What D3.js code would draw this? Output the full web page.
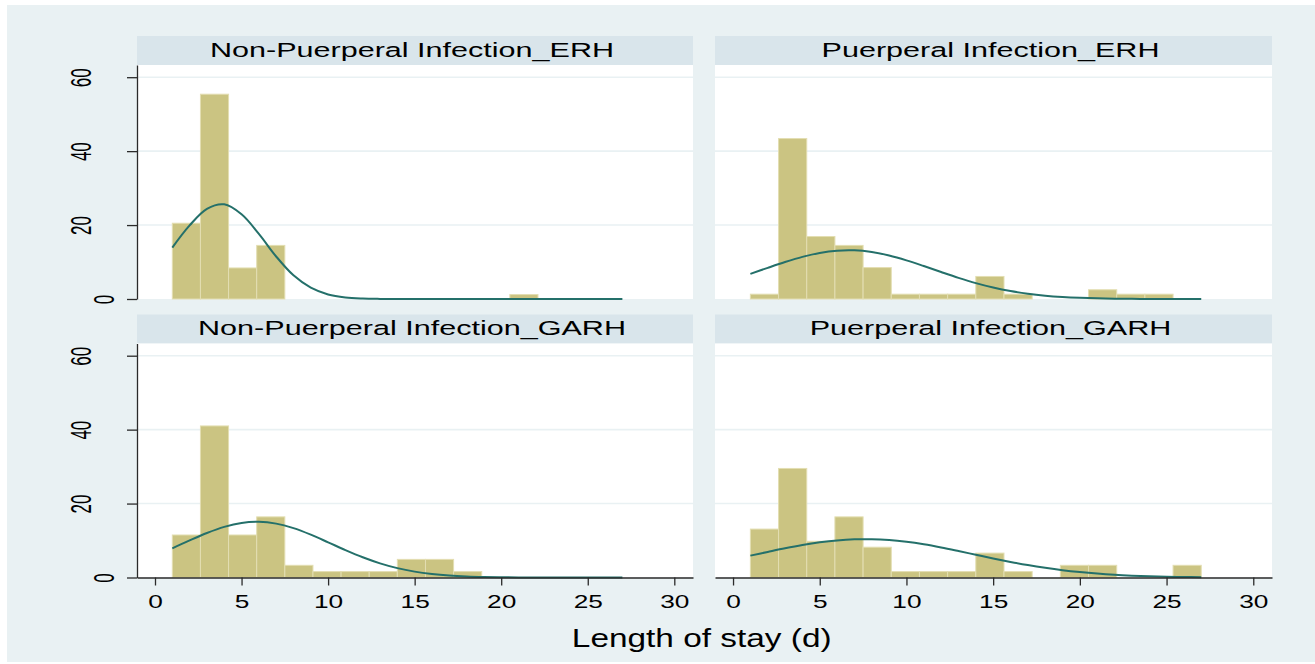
<!DOCTYPE html>
<html>
<head>
<meta charset="utf-8">
<script src="https://cdn.jsdelivr.net/npm/d3@7"></script>
<style>
  body { margin: 0; background: #ffffff; }
  svg { display: block; font-family: "Liberation Sans", Arial, sans-serif; }
</style>
</head>
<body>
<script>
// histogram bins (lower edges, days) shared by all panels
var binLo = [1, 2.625, 4.25, 5.875, 7.5, 9.125, 10.75, 12.375, 14, 15.625, 17.25, 18.875, 20.5, 22.125, 23.75, 25.375];
var binWidth = 1.625;

// bar heights, percent
var pctNonPuerERH  = [20.5, 55.4, 8.4, 14.5, 0, 0, 0, 0, 0, 0, 0, 0, 1.2, 0, 0, 0];
var pctPuerERH     = [1.3, 43.4, 16.9, 14.5, 8.5, 1.3, 1.3, 1.3, 6.1, 1.3, 0, 0, 2.5, 1.3, 1.3, 0];
var pctNonPuerGARH = [11.5, 41.0, 11.5, 16.4, 3.3, 1.6, 1.6, 1.6, 4.9, 4.9, 1.6, 0, 0, 0, 0, 0];
var pctPuerGARH    = [13.1, 29.5, 9.8, 16.4, 8.2, 1.6, 1.6, 1.6, 6.6, 1.6, 0, 3.3, 3.3, 0, 0, 3.3];

// normal density overlay, read at whole days 1..27
var curveX = [1, 2, 3, 4, 5, 6, 7, 8, 9, 10, 11, 12, 13, 14, 15, 16, 17, 18, 19, 20, 21, 22, 23, 24, 25, 26, 27];
var curveNonPuerERH  = [13.9, 19.9, 24.4, 25.6, 22.9, 17.6, 11.5, 6.4, 3.06, 1.24, 0.43, 0.13, 0.03, 0, 0, 0, 0, 0, 0, 0, 0, 0, 0, 0, 0, 0, 0];
var curvePuerERH     = [6.8, 8.43, 10.0, 11.4, 12.47, 13.08, 13.17, 12.71, 11.77, 10.46, 8.91, 7.29, 5.72, 4.30, 3.11, 2.15, 1.43, 0.91, 0.56, 0.33, 0.18, 0.10, 0.05, 0.02, 0.01, 0, 0];
var curveNonPuerGARH = [7.9, 10.03, 12.04, 13.70, 14.76, 15.06, 14.57, 13.35, 11.58, 9.52, 7.41, 5.47, 3.83, 2.53, 1.59, 0.95, 0.53, 0.28, 0.14, 0.07, 0.03, 0.01, 0, 0, 0, 0, 0];
var curvePuerGARH    = [5.92, 6.92, 7.90, 8.78, 9.51, 10.04, 10.33, 10.36, 10.13, 9.65, 8.97, 8.12, 7.16, 6.16, 5.16, 4.22, 3.36, 2.61, 1.97, 1.46, 1.05, 0.73, 0.50, 0.33, 0.22, 0.14, 0.08];

var panelTitles = ["Non-Puerperal Infection_ERH", "Puerperal Infection_ERH", "Non-Puerperal Infection_GARH", "Puerperal Infection_GARH"];
var yTicks = [0, 20, 40, 60];
var xTicks = [0, 5, 10, 15, 20, 25, 30];
var xTitle = "Length of stay (d)";

var width = 1315, height = 664;
var bgColor = "#e9f1f3", stripColor = "#d9e5eb", barColor = "#cbc482", barEdge = "#e3deb2", lineColor = "#24706a", axisColor = "#2a2a2a";

var cols = [[137, 693], [715, 1272]];
var rowTops = [36, 314.5];
var stripH = 29, plotH = 234;

var svg = d3.select("body").append("svg").attr("width", width).attr("height", height);

svg.append("rect").attr("x", 7).attr("y", 5).attr("width", width - 7).attr("height", 657).attr("fill", bgColor);

var panels = [
  {title: panelTitles[0], pct: pctNonPuerERH,  curve: curveNonPuerERH,  col: 0, row: 0},
  {title: panelTitles[1], pct: pctPuerERH,     curve: curvePuerERH,     col: 1, row: 0},
  {title: panelTitles[2], pct: pctNonPuerGARH, curve: curveNonPuerGARH, col: 0, row: 1},
  {title: panelTitles[3], pct: pctPuerGARH,    curve: curvePuerGARH,    col: 1, row: 1}
];

panels.forEach(function(p) {
  var x0 = cols[p.col][0], x1 = cols[p.col][1];
  var top = rowTops[p.row];
  var plotTop = top + stripH, plotBot = plotTop + plotH;

  var x = d3.scaleLinear().domain([-1.04, 31.08]).range([x0, x1]);
  var y = d3.scaleLinear().domain([0, 63.3]).range([plotBot, plotTop]);

  var g = svg.append("g");

  // strip header
  g.append("rect").attr("x", x0).attr("y", top).attr("width", x1 - x0).attr("height", stripH).attr("fill", stripColor);
  g.append("text")
    .attr("transform", "translate(" + ((x0 + x1) / 2 - 3) + "," + (top + 20.7) + ") scale(1.567,1)")
    .attr("text-anchor", "middle")
    .style("font-size", "19.5px")
    .attr("fill", "#000")
    .text(p.title);

  // plot region
  g.append("rect").attr("x", x0).attr("y", plotTop).attr("width", x1 - x0).attr("height", plotH).attr("fill", "#ffffff");

  g.selectAll("line.grid")
    .data(yTicks.filter(function(t){ return t > 0; }))
    .enter().append("line")
    .attr("class", "grid")
    .attr("x1", x0).attr("x2", x1)
    .attr("y1", function(d){ return y(d); })
    .attr("y2", function(d){ return y(d); })
    .attr("stroke", bgColor)
    .attr("stroke-width", 1.6);

  // bars
  var bars = binLo.map(function(lo, i){ return {lo: lo, v: p.pct[i]}; }).filter(function(d){ return d.v > 0; });
  g.selectAll("rect.bar")
    .data(bars)
    .enter().append("rect")
    .attr("class", "bar")
    .attr("x", function(d){ return x(d.lo); })
    .attr("width", function(d){ return x(d.lo + binWidth) - x(d.lo); })
    .attr("y", function(d){ return y(d.v); })
    .attr("height", function(d){ return y(0) - y(d.v); })
    .attr("fill", barColor)
    .attr("stroke", barEdge)
    .attr("stroke-width", 1);

  // normal curve
  var line = d3.line()
    .x(function(d){ return x(d[0]); })
    .y(function(d){ return y(d[1]); })
    .curve(d3.curveCatmullRom.alpha(0.5));
  g.append("path")
    .attr("d", line(curveX.map(function(cx, i){ return [cx, p.curve[i]]; })))
    .attr("fill", "none")
    .attr("stroke", lineColor)
    .attr("stroke-width", 2);

  // y axis on left column only
  if (p.col === 0) {
    var yAxis = d3.axisLeft(y).tickValues(yTicks).tickSize(10).tickSizeOuter(0);
    var ya = g.append("g").attr("transform", "translate(" + x0 + ",0)").call(yAxis);
    ya.select(".domain").attr("stroke", axisColor).attr("stroke-width", 1.3);
    ya.selectAll(".tick line").attr("stroke", axisColor).attr("stroke-width", 1.3);
    ya.selectAll(".tick text")
      .attr("x", null).attr("dy", null)
      .attr("text-anchor", "middle")
      .attr("fill", "#000")
      .style("font-size", "17px")
      .attr("transform", function(d){ return "translate(" + (-23.5 * String(d).length + 0.5) + ",0) rotate(-90) scale(1,1.7)"; });
  }

  // x axis on bottom row only
  if (p.row === 1) {
    var xAxis = d3.axisBottom(x).tickValues(xTicks).tickSize(8).tickSizeOuter(0);
    var xa = g.append("g").attr("transform", "translate(0," + plotBot + ")").call(xAxis);
    xa.select(".domain").attr("stroke", axisColor).attr("stroke-width", 1.3);
    xa.selectAll(".tick line").attr("stroke", axisColor).attr("stroke-width", 1.3);
    xa.selectAll(".tick text")
      .attr("y", 30.8).attr("dy", null)
      .attr("fill", "#000")
      .style("font-size", "18.5px")
      .attr("transform", "scale(1.42,1)");
  }
});

svg.append("text")
  .attr("transform", "translate(701.7,646.7) scale(1.26,1)")
  .attr("text-anchor", "middle")
  .style("font-size", "26.5px")
  .attr("fill", "#000")
  .text(xTitle);
</script>
</body>
</html>
